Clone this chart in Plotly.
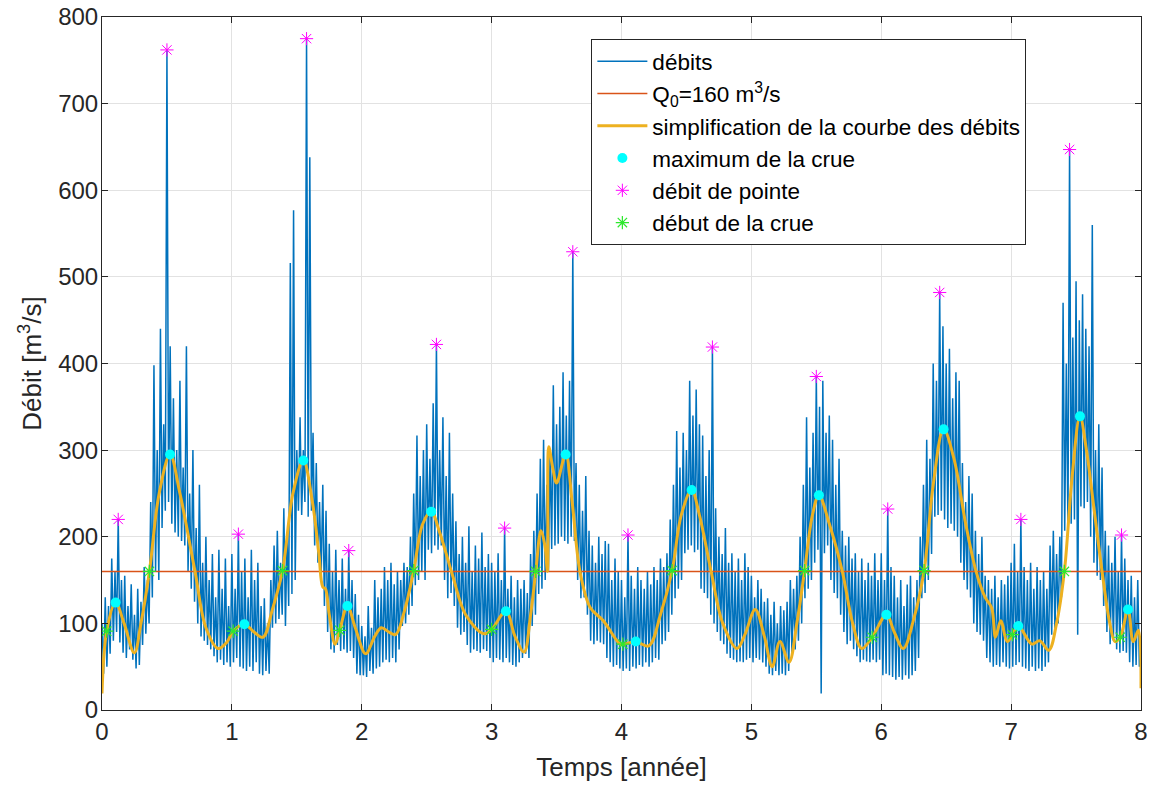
import numpy as np
import plotly.graph_objects as go

DT = 0.0125         # pas de temps de la série des débits [année]
Q0 = 160            # seuil de crue [m3/s]

# débits, une liste par année (80 valeurs chacune)
debits_an0 = [100, 42, 130, 50, 120, 65, 175, 80, 160, 90, 220, 78, 150, 66, 155, 60, 120, 70, 145, 58,
              110, 48, 140, 52, 125, 75, 165, 88, 150, 100, 240, 130, 398, 160, 300, 150, 440, 210, 330, 230,
              762, 240, 420, 215, 360, 205, 300, 200, 380, 195, 280, 190, 420, 160, 250, 140, 300, 125, 210, 100,
              260, 85, 170, 80, 200, 75, 150, 70, 180, 62, 130, 55, 185, 58, 140, 52, 175, 55, 120, 50]
debits_an1 = [180, 55, 140, 60, 203, 50, 160, 48, 175, 45, 130, 50, 185, 45, 150, 55, 170, 42, 120, 40,
              129, 45, 100, 42, 150, 95, 190, 100, 207, 105, 170, 110, 233, 97, 200, 120, 516, 134, 577, 150,
              300, 230, 338, 225, 300, 240, 775, 223, 638, 230, 320, 190, 285, 170, 240, 155, 260, 120, 230, 90,
              192, 70, 160, 66, 185, 75, 150, 68, 175, 70, 140, 66, 184, 68, 150, 60, 134, 42, 110, 40]
debits_an2 = [97, 40, 85, 38, 120, 45, 95, 42, 150, 48, 130, 50, 140, 55, 165, 58, 150, 55, 170, 60,
              145, 55, 160, 70, 150, 97, 170, 100, 165, 110, 200, 120, 250, 144, 317, 150, 270, 160, 300, 150,
              330, 185, 290, 181, 354, 190, 422, 185, 300, 190, 338, 150, 270, 129, 320, 135, 250, 120, 218, 95,
              180, 87, 200, 90, 170, 75, 212, 66, 160, 70, 190, 68, 175, 66, 205, 70, 165, 68, 180, 60]
debits_an3 = [170, 55, 160, 60, 181, 58, 150, 55, 210, 60, 140, 55, 155, 52, 130, 50, 150, 55, 140, 60,
              150, 65, 135, 60, 180, 97, 207, 110, 250, 134, 290, 140, 312, 150, 260, 160, 300, 186, 375, 190,
              330, 192, 350, 200, 390, 195, 340, 192, 380, 200, 529, 195, 285, 150, 260, 129, 230, 130, 270, 110,
              207, 80, 190, 76, 170, 80, 200, 78, 180, 76, 195, 60, 192, 55, 150, 50, 175, 52, 160, 48]
debits_an4 = [150, 45, 130, 48, 202, 45, 155, 50, 140, 48, 165, 52, 150, 50, 140, 55, 160, 50, 145, 55,
              165, 60, 150, 58, 175, 76, 165, 80, 181, 90, 220, 110, 260, 129, 322, 140, 280, 150, 320, 181,
              300, 185, 380, 190, 340, 182, 370, 185, 330, 140, 317, 135, 270, 129, 300, 110, 419, 100, 233, 90,
              200, 80, 180, 76, 210, 65, 170, 60, 181, 58, 160, 55, 175, 56, 150, 55, 181, 58, 165, 60]
debits_an5 = [155, 55, 130, 60, 150, 58, 140, 55, 125, 50, 129, 42, 110, 40, 125, 45, 100, 40, 120, 42,
              115, 40, 125, 45, 150, 66, 140, 70, 155, 80, 200, 100, 260, 129, 338, 140, 280, 150, 320, 170,
              385, 185, 350, 19, 380, 181, 320, 190, 340, 150, 312, 135, 260, 129, 290, 110, 207, 90, 190, 76,
              200, 80, 175, 70, 181, 62, 160, 55, 175, 58, 150, 56, 170, 55, 155, 58, 181, 55, 150, 58]
debits_an6 = [181, 40, 150, 42, 232, 40, 165, 38, 155, 35, 130, 38, 150, 35, 120, 40, 145, 36, 155, 40,
              130, 45, 150, 60, 200, 129, 260, 135, 312, 150, 290, 180, 400, 223, 380, 225, 482, 230, 443, 220,
              400, 210, 417, 215, 360, 207, 390, 200, 380, 170, 285, 150, 240, 139, 270, 130, 250, 100, 207, 90,
              180, 87, 200, 80, 155, 60, 150, 55, 140, 50, 155, 52, 130, 50, 150, 55, 145, 50, 155, 48]
debits_an7 = [170, 50, 192, 52, 160, 55, 220, 50, 165, 48, 150, 45, 170, 50, 140, 45, 165, 48, 150, 45,
              160, 50, 140, 55, 190, 87, 207, 90, 180, 100, 200, 130, 470, 207, 400, 210, 647, 215, 430, 220,
              495, 87, 450, 235, 480, 233, 440, 240, 420, 200, 560, 170, 300, 155, 330, 150, 280, 120, 207, 90,
              190, 76, 170, 80, 200, 70, 160, 66, 202, 68, 175, 66, 150, 55, 155, 50, 130, 52, 150, 50]
debit_fin = [60]

# simplification de la courbe des débits
simpl_t = [0.0, 0.036, 0.105, 0.17, 0.249, 0.30, 0.365, 0.44, 0.524, 0.60, 0.716, 0.80, 0.894, 0.96,
           1.01, 1.096, 1.17, 1.24, 1.31, 1.39, 1.47, 1.55, 1.62, 1.67, 1.70, 1.72, 1.75, 1.795, 1.83,
           1.89, 1.95, 2.03, 2.10, 2.15, 2.21, 2.26, 2.33, 2.40, 2.47, 2.535, 2.60, 2.70, 2.80, 2.94,
           3.00, 3.11, 3.18, 3.25, 3.30, 3.34, 3.38, 3.41, 3.43, 3.44, 3.47, 3.50, 3.57, 3.62, 3.68,
           3.76, 3.86, 3.99, 4.02, 4.11, 4.21, 4.30, 4.39, 4.46, 4.54, 4.60, 4.69, 4.78, 4.89, 4.95,
           5.03, 5.10, 5.16, 5.22, 5.29, 5.35, 5.41, 5.47, 5.52, 5.60, 5.70, 5.78, 5.85, 5.93, 6.04,
           6.10, 6.17, 6.25, 6.33, 6.40, 6.48, 6.56, 6.65, 6.73, 6.80, 6.85, 6.88, 6.92, 6.97, 7.01,
           7.055, 7.16, 7.22, 7.29, 7.35, 7.41, 7.47, 7.53, 7.58, 7.64, 7.70, 7.76, 7.80, 7.84, 7.90,
           7.94, 7.98, 8.0]
simpl_q = [19, 91, 124, 100, 66, 100, 160, 250, 295, 250, 160, 95, 71, 78,
           91, 99, 90, 84, 115, 161, 250, 288, 240, 180, 142, 140, 110, 76, 92,
           120, 95, 65, 85, 95, 90, 87, 115, 161, 215, 229, 205, 155, 110, 88,
           93, 114, 85, 67, 110, 160, 207, 190, 160, 304, 280, 262, 295, 240, 160,
           118, 103, 76, 76, 79, 74, 110, 161, 225, 254, 225, 160, 100, 71, 87,
           116, 85, 50, 79, 55, 100, 161, 225, 248, 215, 160, 100, 71, 84, 110,
           90, 71, 105, 161, 260, 324, 290, 215, 160, 130, 118, 84, 103, 79, 87,
           97, 76, 80, 69, 100, 160, 270, 339, 300, 230, 160, 100, 79, 84, 116,
           79, 92, 25]

max_t = [0.105, 0.524, 1.096, 1.55, 1.89, 2.535, 3.11, 3.57, 4.11, 4.54, 5.52, 6.04, 6.48, 7.055, 7.53, 7.90]
max_q = [124, 295, 99, 288, 120, 229, 114, 295, 79, 254, 248, 110, 324, 97, 339, 116]

pointe_t = [0.125, 0.5, 1.05, 1.575, 1.9, 2.575, 3.1, 3.625, 4.05, 4.7, 5.5, 6.05, 6.45, 7.075, 7.45, 7.85]
pointe_q = [220, 762, 203, 775, 184, 422, 210, 529, 202, 419, 385, 232, 482, 220, 647, 202]

debut_t = [0.036, 0.365, 1.01, 1.39, 1.83, 2.40, 3.00, 3.34, 4.01, 4.39, 5.41, 5.93, 6.33, 7.01, 7.41, 7.84]
debut_q = [91, 160, 91, 161, 92, 161, 93, 160, 76, 161, 161, 84, 161, 87, 160, 84]

debits = (debits_an0 + debits_an1 + debits_an2 + debits_an3 +
          debits_an4 + debits_an5 + debits_an6 + debits_an7 + debit_fin)
temps = np.arange(len(debits)) * DT

FONT = 'Liberation Sans, Arial, sans-serif'
AXE = '#262626'

fig = go.Figure()
fig.add_trace(go.Scatter(x=temps, y=debits, mode='lines', name='débits',
                         line=dict(color='#0072BD', width=1.5)))
fig.add_trace(go.Scatter(x=[temps[0], temps[-1]], y=[Q0, Q0], mode='lines',
                         name=f'Q<sub>0</sub>={Q0} m<sup>3</sup>/s',
                         line=dict(color='#D95319', width=1.5)))
fig.add_trace(go.Scatter(x=simpl_t, y=simpl_q, mode='lines', line_shape='spline',
                         name='simplification de la courbe des débits',
                         line=dict(color='#EDB120', width=3)))
fig.add_trace(go.Scatter(x=max_t, y=max_q, mode='markers', name='maximum de la crue',
                         marker=dict(symbol='circle', color='#00FFFF', size=10)))
fig.add_trace(go.Scatter(x=pointe_t, y=pointe_q, mode='markers', name='débit de pointe',
                         marker=dict(symbol='asterisk-open', size=11, color='#FF00FF',
                                     line=dict(color='#FF00FF', width=1))))
fig.add_trace(go.Scatter(x=debut_t, y=debut_q, mode='markers', name='début de la crue',
                         marker=dict(symbol='asterisk-open', size=11, color='#2EE82E',
                                     line=dict(color='#2EE82E', width=1.2))))

axis_style = dict(showline=True, linecolor=AXE, linewidth=1, mirror='ticks',
                  ticks='inside', ticklen=6, tickcolor=AXE, automargin=False,
                  ticklabeloverflow='allow',
                  showgrid=True, gridcolor='#e2e2e2', gridwidth=1, zeroline=False,
                  tickfont=dict(family=FONT, size=24, color=AXE))

fig.update_layout(
    width=1149, height=787,
    margin=dict(l=102, r=8, t=17, b=77),
    paper_bgcolor='white', plot_bgcolor='white',
    font=dict(family=FONT, color=AXE),
    xaxis=dict(range=[0, 8], dtick=1, tick0=0,
               title=dict(text='Temps [année]', font=dict(size=26), standoff=14),
               **axis_style),
    yaxis=dict(range=[0, 800], dtick=100, tick0=0, ticklabelstandoff=-2,
               title=dict(text='Débit [m<sup>3</sup>/s]', font=dict(size=26), standoff=9),
               **axis_style),
    legend=dict(x=0.471, y=0.968, xanchor='left', yanchor='top',
                bgcolor='white', bordercolor=AXE, borderwidth=1,
                font=dict(family=FONT, size=22.5, color='black'),
                itemwidth=50),
    showlegend=True,
)

# la page ajoute par défaut une marge de 8 px autour du graphique
fig.write_html("out.html", config={'displayModeBar': False},
               post_script="document.body.style.margin = '0';")
